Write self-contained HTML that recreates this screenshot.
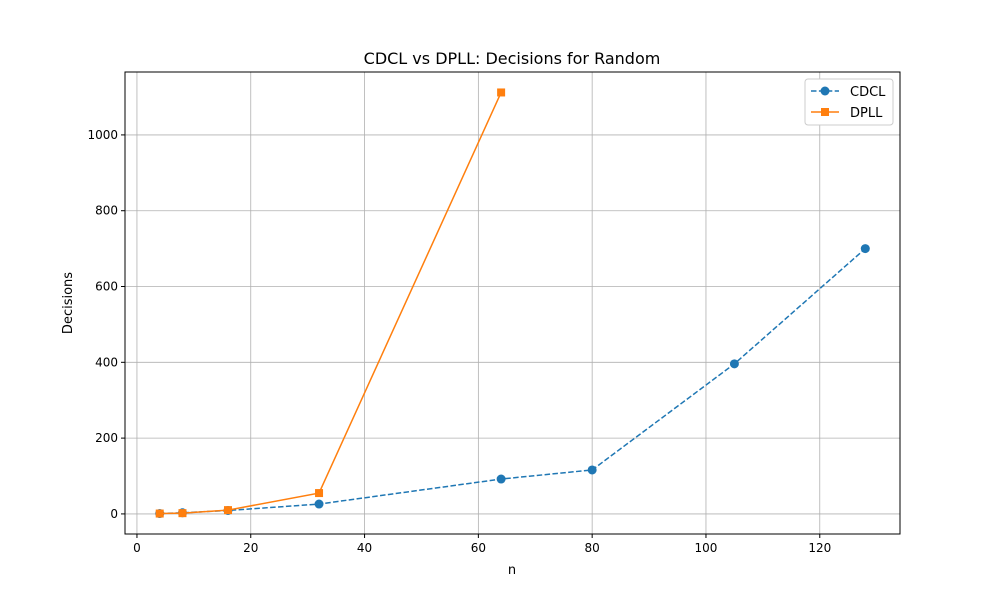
<!DOCTYPE html>
<html><head><meta charset="utf-8"><style>
body{margin:0;background:#fff;font-family:"Liberation Sans","DejaVu Sans",sans-serif;}
svg text{font-family:"DejaVu Sans","Liberation Sans",sans-serif;}
</style></head><body>
<svg id="chart" width="1000" height="600" viewBox="0 0 1000 600">
<rect width="1000" height="600" fill="#fff"/>
<g id="grid"></g>
<g id="axes"></g>
<g id="series"></g>
<text x="512" y="64" text-anchor="middle" font-size="16">CDCL vs DPLL: Decisions for Random</text>
<text x="512" y="574" text-anchor="middle" font-size="13">n</text>
<text x="72" y="303" text-anchor="middle" font-size="13" transform="rotate(-90 72 303)">Decisions</text>
<g>
<rect x="805" y="79" width="88" height="46" fill="#fff" stroke="#ccc" rx="3"/>
<g>
<line x1="811" y1="91" x2="839" y2="91" stroke="#1f77b4" stroke-width="1.5" stroke-dasharray="5.5,2.4"/>
<circle cx="825" cy="91" r="4.5" fill="#1f77b4"/>
<text x="850" y="96" font-size="13">CDCL</text></g>
<g>
<line x1="811" y1="112" x2="839" y2="112" stroke="#ff7f0e" stroke-width="1.5"/>
<rect x="821" y="108" width="8" height="8" fill="#ff7f0e"/>
<text x="850" y="117" font-size="13">DPLL</text></g>
</g>
</svg>
<script>
const xTicks=[0,20,40,60,80,100,120];
const yTicks=[0,200,400,600,800,1000];
const cdclN=[4,8,16,32,64,80,105,128];
const cdclVals=[1,3,9,26,92,116,396,700];
const dpllN=[4,8,16,32,64];
const dpllVals=[1,2,10,55,1112];
const L=125,R=900,T=72,B=534;
const xMin=-2.1,xMax=134.1,yMin=-53,yMax=1166;
const sx=v=>L+(v-xMin)/(xMax-xMin)*(R-L);
const sy=v=>B-(v-yMin)/(yMax-yMin)*(B-T);
const NS="http://www.w3.org/2000/svg";
function mk(p,t,a){const e=document.createElementNS(NS,t);for(const k in a)e.setAttribute(k,a[k]);p.appendChild(e);return e;}
const g=document.getElementById('grid'),ax=document.getElementById('axes'),s=document.getElementById('series');
xTicks.forEach(v=>{const x=sx(v);
const l=mk(g,'line',{x1:x,x2:x,y1:T,y2:B,stroke:'#b0b0b0','stroke-width':0.8});


mk(ax,'line',{x1:x,x2:x,y1:B,y2:B+4,stroke:'#000'});
const t=mk(ax,'text',{x:x,y:B+18,'text-anchor':'middle','font-size':12});t.textContent=v;

});
yTicks.forEach(v=>{const y=sy(v);
const l=mk(g,'line',{x1:L,x2:R,y1:y,y2:y,stroke:'#b0b0b0','stroke-width':0.8});


mk(ax,'line',{x1:L-4,x2:L,y1:y,y2:y,stroke:'#000'});
const t=mk(ax,'text',{x:L-7,y:y+4,'text-anchor':'end','font-size':12});t.textContent=v;

});
const fr=mk(ax,'rect',{x:L,y:T,width:R-L,height:B-T,fill:'none',stroke:'#000','stroke-width':1});


const p1=mk(s,'polyline',{points:cdclN.map((n,i)=>sx(n)+','+sy(cdclVals[i])).join(' '),fill:'none',stroke:'#1f77b4','stroke-width':1.5,'stroke-dasharray':'5.5,2.4'});


cdclN.forEach((n,i)=>{const c=mk(s,'circle',{cx:sx(n),cy:sy(cdclVals[i]),r:4.5,fill:'#1f77b4'});

});
const p2=mk(s,'polyline',{points:dpllN.map((n,i)=>sx(n)+','+sy(dpllVals[i])).join(' '),fill:'none',stroke:'#ff7f0e','stroke-width':1.5});


dpllN.forEach((n,i)=>{const r=mk(s,'rect',{x:sx(n)-4,y:sy(dpllVals[i])-4,width:8,height:8,fill:'#ff7f0e'});

});
</script>
</body></html>
